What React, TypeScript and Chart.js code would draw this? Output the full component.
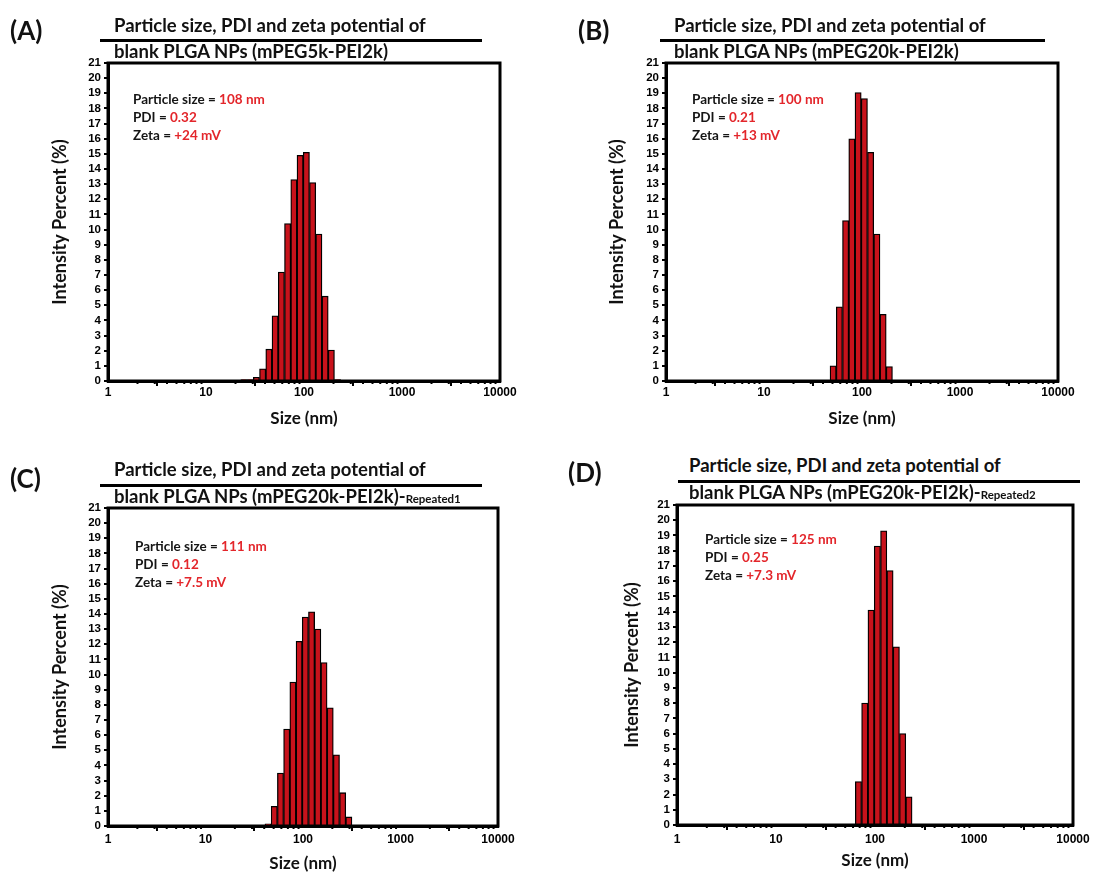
import React, { useEffect, useRef } from 'react';
import { Chart, registerables } from 'chart.js';

Chart.register(...registerables);

// ---------- DATA ----------
const sizesA = [18.17, 21.04, 24.36, 28.21, 32.67, 37.84, 43.82, 50.75, 58.77, 68.06, 78.82, 91.28, 105.7, 122.4, 141.8, 164.2, 190.1, 220.2];
const intensityA = [0.05, 0.05, 0.1, 0.1, 0.25, 0.8, 2.1, 4.3, 7.2, 10.4, 13.3, 14.9, 15.1, 13.1, 9.7, 5.6, 2.05, 0.1];

const sizesB = [50.75, 58.77, 68.06, 78.82, 91.28, 105.7, 122.4, 141.8, 164.2, 190.1];
const intensityB = [1.0, 4.9, 10.6, 16.0, 19.05, 18.65, 15.1, 9.7, 4.4, 0.95];

const sizesC = [37.84, 43.82, 50.75, 58.77, 68.06, 78.82, 91.28, 105.7, 122.4, 141.8, 164.2, 190.1, 220.2, 255.0, 295.3];
const intensityC = [0.05, 0.15, 1.3, 3.5, 6.4, 9.5, 12.2, 13.8, 14.15, 13.0, 10.8, 7.8, 4.7, 2.2, 0.6];

const sizesD = [68.06, 78.82, 91.28, 105.7, 122.4, 141.8, 164.2, 190.1, 220.2];
const intensityD = [2.85, 8.0, 14.1, 18.3, 19.3, 16.7, 11.7, 6.0, 1.85];

const panelLetters = ['(A)', '(B)', '(C)', '(D)'];
const titleLine1 = 'Particle size, PDI and zeta potential of';
const titleLine2 = [
  'blank PLGA NPs (mPEG5k-PEI2k)',
  'blank PLGA NPs (mPEG20k-PEI2k)',
  'blank PLGA NPs (mPEG20k-PEI2k)',
  'blank PLGA NPs (mPEG20k-PEI2k)',
];
const titleSuffix = ['', '', 'Repeated1', 'Repeated2'];
const particleSizeText = ['108 nm', '100 nm', '111 nm', '125 nm'];
const pdiText = ['0.32', '0.21', '0.12', '0.25'];
const zetaText = ['+24 mV', '+13 mV', '+7.5 mV', '+7.3 mV'];

const xMajorTicks = [1, 10, 100, 1000, 10000];
const xMinorMultipliers = [2, 3, 4, 5, 6, 7, 8, 9];
const yMin = 0;
const yMax = 21;
const xTitle = 'Size (nm)';
const yTitle = 'Intensity Percent (%)';

const seriesSizes = [sizesA, sizesB, sizesC, sizesD];
const seriesValues = [intensityA, intensityB, intensityC, intensityD];

// ---------- LAYOUT ----------
type Layout = {
  canvas: { x: number; y: number; w: number; h: number };
  area: { l: number; r: number; t: number; b: number };
  xTitleY: number;
  yTitleX: number;
  xTickY: number;
  note: { dx: number; dy: number };
  head: {
    letterX: number; letterY: number;
    line1X: number; line1Y: number;
    ruleX1: number; ruleX2: number; ruleY: number;
    line2X: number; line2Y: number;
  };
};

const layouts: Layout[] = [
  {
    canvas: { x: 0, y: 45, w: 546, h: 392 },
    area: { l: 108, r: 500, t: 63, b: 381 },
    xTitleY: 419, yTitleX: 60, xTickY: 393,
    note: { dx: 25, dy: 37 },
    head: { letterX: 10, letterY: 30, line1X: 114, line1Y: 25, ruleX1: 100, ruleX2: 482, ruleY: 40, line2X: 114, line2Y: 51 },
  },
  {
    canvas: { x: 556, y: 45, w: 537, h: 392 },
    area: { l: 666, r: 1058, t: 63, b: 381 },
    xTitleY: 419, yTitleX: 617, xTickY: 393,
    note: { dx: 26, dy: 37 },
    head: { letterX: 578, letterY: 30, line1X: 674, line1Y: 25, ruleX1: 660, ruleX2: 1045, ruleY: 40, line2X: 674, line2Y: 51 },
  },
  {
    canvas: { x: 0, y: 492, w: 546, h: 383 },
    area: { l: 108, r: 498, t: 508, b: 826 },
    xTitleY: 864, yTitleX: 60, xTickY: 840,
    note: { dx: 27, dy: 39 },
    head: { letterX: 10, letterY: 478, line1X: 114, line1Y: 469, ruleX1: 100, ruleX2: 482, ruleY: 485, line2X: 114, line2Y: 497 },
  },
  {
    canvas: { x: 556, y: 490, w: 537, h: 385 },
    area: { l: 677, r: 1073, t: 505, b: 825 },
    xTitleY: 861, yTitleX: 632, xTickY: 840,
    note: { dx: 28, dy: 35 },
    head: { letterX: 568, letterY: 472, line1X: 689, line1Y: 465, ruleX1: 678, ruleX2: 1080, ruleY: 481, line2X: 689, line2Y: 493 },
  },
];

const TITLE_FONT = 'Lato';
const TICK_FONT = '"Liberation Sans", Arial, sans-serif';
const RED = '#e3262b';
const BAR_RED = '#c8121b';

const isPow10 = (v: number) => {
  const l = Math.log10(v);
  return Math.abs(l - Math.round(l)) < 1e-9;
};

const framePlugin = {
  id: 'frame',
  afterDatasetsDraw(chart: any) {
    const { ctx, chartArea } = chart;
    const xs = chart.scales.x;
    ctx.save();
    ctx.strokeStyle = '#000';
    ctx.lineWidth = 3;
    ctx.strokeRect(chartArea.left, chartArea.top, chartArea.right - chartArea.left, chartArea.bottom - chartArea.top);
    // minor ticks on log axis
    ctx.lineWidth = 2;
    for (let i = 0; i < xMajorTicks.length - 1; i++) {
      for (const m of xMinorMultipliers) {
        const px = xs.getPixelForValue(xMajorTicks[i] * m);
        ctx.beginPath();
        ctx.moveTo(px, chartArea.bottom - 1);
        ctx.lineTo(px, chartArea.bottom + 3);
        ctx.stroke();
      }
    }
    ctx.restore();
  },
};

const notePlugin = {
  id: 'note',
  afterDraw(chart: any, _args: any, opts: any) {
    const { ctx, chartArea } = chart;
    const lines: [string, string][] = opts.lines || [];
    ctx.save();
    ctx.font = `bold 13.5px ${TITLE_FONT}`;
    ctx.textBaseline = 'middle';
    ctx.textAlign = 'left';
    lines.forEach(([lab, val], i) => {
      const x = chartArea.left + opts.dx;
      const y = chartArea.top + opts.dy + i * 18;
      ctx.fillStyle = '#151515';
      ctx.fillText(lab, x, y);
      const w = ctx.measureText(lab).width;
      ctx.fillStyle = RED;
      ctx.fillText(val, x + w, y);
    });
    ctx.restore();
  },
};

function Panel({ index }: { index: number }) {
  const ref = useRef<HTMLCanvasElement>(null);
  const L = layouts[index];
  useEffect(() => {
    if (!ref.current) return;
    const { canvas: c, area } = L;
    const titleSize = 17;
    const yTitleSize = 18;
    const tickSizeX = 12;
    const chart = new Chart(ref.current, {
      type: 'bar',
      data: {
        datasets: [
          {
            data: seriesSizes[index].map((s, i) => ({ x: s, y: seriesValues[index][i] })),
            backgroundColor: BAR_RED,
            borderColor: '#000',
            borderWidth: 1.3,
            barPercentage: 1,
            categoryPercentage: 1,
          } as any,
        ],
      },
      options: {
        animation: false,
        responsive: false,
        maintainAspectRatio: false,
        layout: { padding: { top: area.t - c.y, right: c.x + c.w - area.r, bottom: 0, left: 0 } },
        plugins: {
          legend: { display: false },
          tooltip: { enabled: false },
          note: {
            dx: L.note.dx,
            dy: L.note.dy,
            lines: [
              ['Particle size = ', particleSizeText[index]],
              ['PDI = ', pdiText[index]],
              ['Zeta = ', zetaText[index]],
            ],
          },
        } as any,
        scales: {
          x: {
            type: 'logarithmic',
            min: xMajorTicks[0],
            max: xMajorTicks[xMajorTicks.length - 1],
            offset: false,
            afterFit: (s: any) => { s.height = c.y + c.h - area.b; },
            afterBuildTicks: (s: any) => { s.ticks = xMajorTicks.map((v) => ({ value: v })); },
            grid: { display: true, drawOnChartArea: false, drawTicks: true, tickLength: 5, lineWidth: 2, color: '#000' },
            border: { display: true, color: '#000', width: 3 },
            ticks: {
              autoSkip: false,
              maxRotation: 0,
              padding: L.xTickY - area.b - 5 - (tickSizeX * 1.2) / 2,
              color: '#000',
              font: { family: TICK_FONT, weight: 'bold', size: tickSizeX },
              callback: (v: any) => (isPow10(Number(v)) ? String(v) : ''),
            },
            title: {
              display: true,
              text: xTitle,
              color: '#111',
              font: { family: TITLE_FONT, weight: 'bold', size: titleSize },
              padding: { top: 0, bottom: c.y + c.h - L.xTitleY - (titleSize * 1.2) / 2 },
            },
          } as any,
          y: {
            type: 'linear',
            min: yMin,
            max: yMax,
            afterFit: (s: any) => { s.width = area.l - c.x; },
            grid: { display: true, drawOnChartArea: false, drawTicks: true, tickLength: 4, lineWidth: 2, color: '#000' },
            border: { display: true, color: '#000', width: 3 },
            ticks: {
              stepSize: 1,
              autoSkip: false,
              padding: 3,
              color: '#000',
              font: { family: TICK_FONT, weight: 'bold', size: 11.5 },
            },
            title: {
              display: true,
              text: yTitle,
              color: '#111',
              font: { family: TITLE_FONT, weight: 'bold', size: yTitleSize },
              padding: { top: L.yTitleX - c.x - (yTitleSize * 1.2) / 2, bottom: 0 },
            },
          } as any,
        },
      },
      plugins: [framePlugin, notePlugin],
    });
    return () => chart.destroy();
  }, [index]);

  const h = L.head;
  const textStyle: React.CSSProperties = {
    position: 'absolute',
    fontFamily: TITLE_FONT,
    fontWeight: 'bold',
    fontSize: 18.5,
    lineHeight: '22px',
    color: '#111',
    whiteSpace: 'nowrap',
    transform: 'translateY(-50%)',
  };
  return (
    <>
      <canvas
        ref={ref}
        width={L.canvas.w}
        height={L.canvas.h}
        style={{ position: 'absolute', left: L.canvas.x, top: L.canvas.y, width: L.canvas.w, height: L.canvas.h }}
      />
      <div style={{ ...textStyle, left: h.letterX, top: h.letterY, fontSize: 26, lineHeight: '30px' }}>{panelLetters[index]}</div>
      <div style={{ ...textStyle, left: h.line1X, top: h.line1Y }}>{titleLine1}</div>
      <div style={{ position: 'absolute', left: h.ruleX1, top: h.ruleY - 1, width: h.ruleX2 - h.ruleX1, height: 2.5, background: '#000' }} />
      <div style={{ ...textStyle, left: h.line2X, top: h.line2Y }}>
        {titleLine2[index]}
        {titleSuffix[index] ? (
          <>
            -<span style={{ fontSize: 11.5 }}>{titleSuffix[index]}</span>
          </>
        ) : null}
      </div>
    </>
  );
}

export default function App() {
  return (
    <div style={{ position: 'absolute', left: 0, top: 0, width: 1093, height: 875, background: '#fff', overflow: 'hidden' }}>
      {[0, 1, 2, 3].map((i) => (
        <Panel key={i} index={i} />
      ))}
    </div>
  );
}
